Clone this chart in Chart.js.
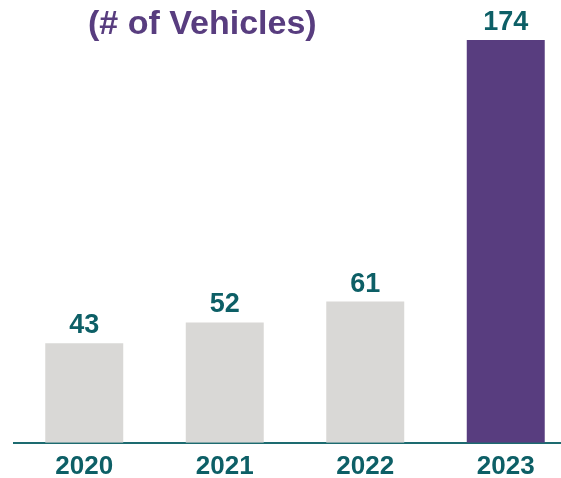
<!DOCTYPE html>
<html>
<head>
<meta charset="utf-8">
<script src="https://cdn.jsdelivr.net/npm/chart.js@4"></script>
<style>
  html, body { margin: 0; padding: 0; overflow: hidden; background: #fff; }
  #wrap { width: 576px; height: 478px; }
</style>
</head>
<body>
<div id="wrap"><canvas id="vehicles"></canvas></div>
<script>
const years = ['2020', '2021', '2022', '2023'];
const vehicles = [43, 52, 61, 174];
const barColors = ['#d9d8d6', '#d9d8d6', '#d9d8d6', '#583d7f'];
const chartTitle = '(# of Vehicles)';

const teal = '#0d5f66';

// values above each bar + the heading in the top left
const labelsPlugin = {
  id: 'labels',
  afterDatasetsDraw(chart) {
    const ctx = chart.ctx;
    ctx.save();
    ctx.fillStyle = teal;
    ctx.font = 'bold 27px "Liberation Sans", Arial, sans-serif';
    ctx.textAlign = 'center';
    ctx.textBaseline = 'alphabetic';
    chart.getDatasetMeta(0).data.forEach((bar, i) => {
      ctx.fillText(vehicles[i], bar.x, bar.y - 10);
    });
    ctx.fillStyle = '#583d7f';
    ctx.font = 'bold 34px "Liberation Sans", Arial, sans-serif';
    ctx.textAlign = 'left';
    ctx.fillText(chartTitle, 88, 34);
    ctx.restore();
  }
};

const ctx = document.getElementById('vehicles').getContext('2d');
const vehiclesChart = new Chart(ctx, {
  type: 'bar',
  data: {
    labels: years,
    datasets: [{
      data: vehicles,
      backgroundColor: barColors,
      barPercentage: 0.555,
      categoryPercentage: 1
    }]
  },
  options: {
    responsive: true,
    maintainAspectRatio: false,
    animation: false,
    layout: { padding: { left: 14, right: 0, top: 26, bottom: -4 } },
    plugins: {
      legend: { display: false },
      tooltip: { enabled: false }
    },
    scales: {
      x: {
        grid: { display: false },
        border: { display: true, color: '#1d6b70', width: 2 },
        ticks: {
          color: teal,
          padding: 0,
          font: { family: '"Liberation Sans", Arial, sans-serif', size: 26, weight: 'bold' }
        }
      },
      y: {
        display: false,
        min: 0,
        max: 180
      }
    }
  },
  plugins: [labelsPlugin]
});
</script>
</body>
</html>
